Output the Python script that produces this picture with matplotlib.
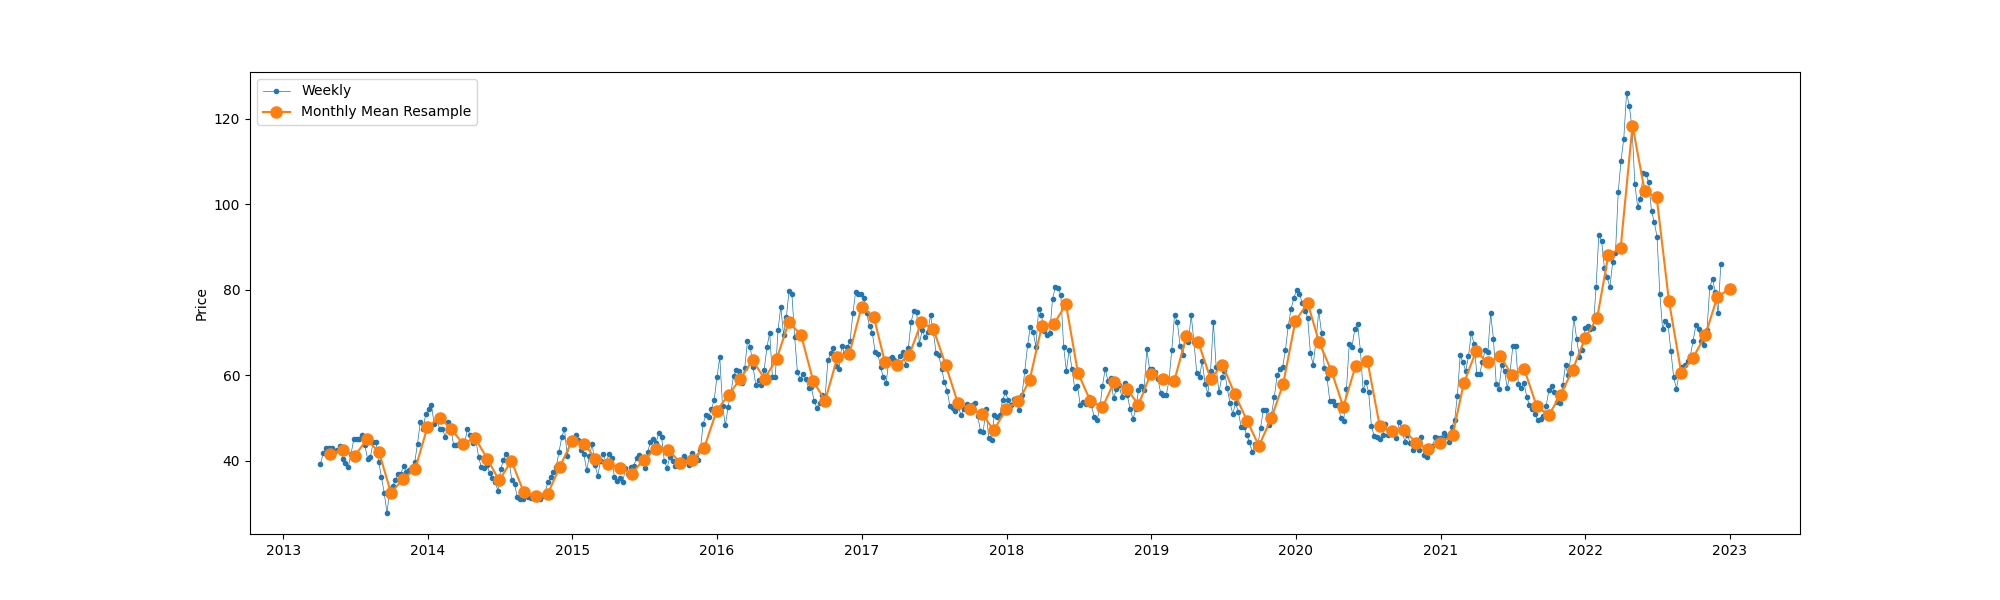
import matplotlib.pyplot as plt
import pandas as pd

# Weekly prices (Friday weeks), one list per year
w2013 = [39.3, 41.8, 42.9, 43.0,
         42.9, 42.1, 42.5, 43.4, 40.5,
         39.5, 38.5, 41.5, 45.0,
         45.0, 45.2, 46.0, 43.6,
         40.5, 40.9, 44.3, 44.5, 39.8,
         36.2, 32.5, 27.8, 33.5,
         34.0, 35.5, 37.0, 37.0,
         38.8, 37.4, 37.9, 38.5, 39.7,
         44.0, 49.0, 47.5, 51.0]
w2014 = [52.0, 53.0, 48.7, 49.5, 47.5,
         47.5, 45.5, 49.1, 47.8,
         43.6, 43.8, 44.0, 44.6,
         44.0, 47.5, 46.0, 44.2,
         45.0, 41.0, 38.5, 38.4, 39.0,
         37.2, 36.0, 35.0, 33.0,
         38.0, 40.3, 41.7, 40.1,
         35.4, 34.6, 31.5, 31.1, 31.1,
         32.5, 31.5, 31.3, 31.8,
         31.0, 31.1, 31.8, 32.5, 35.0,
         36.2, 37.5, 38.5, 42.0,
         45.5, 47.5, 41.1, 44.5]
w2015 = [45.0, 46.0, 44.8, 42.5, 41.5,
         37.8, 41.1, 44.0, 39.0,
         36.5, 40.0, 41.5, 39.5,
         41.5, 40.7, 36.2, 35.3,
         36.0, 35.0, 38.3, 37.0, 38.5,
         38.8, 40.7, 41.4, 40.0,
         38.3, 42.0, 44.5, 45.0, 44.2,
         46.5, 45.6, 40.0, 38.3,
         40.9, 39.9, 38.9, 38.8,
         39.5, 41.1, 40.1, 39.0, 41.8,
         40.9, 40.3, 42.5, 48.7,
         50.6, 50.3, 52.0, 54.3]
w2016 = [59.6, 64.3, 52.8, 48.3, 52.6,
         56.0, 59.9, 61.2, 61.0,
         58.3, 61.7, 68.0, 66.7,
         62.0, 57.7, 58.8, 57.7, 61.2,
         66.5, 70.0, 59.5, 59.6,
         70.5, 76.0, 69.5, 73.6,
         79.7, 79.1, 69.0, 60.8, 59.1,
         60.4, 59.2, 57.1, 57.3,
         54.0, 52.4, 53.6, 55.5, 55.0,
         63.5, 65.1, 66.4, 62.2,
         61.5, 66.8, 65.2, 66.5,
         68.0, 74.5, 79.5, 79.0, 79.0]
w2017 = [78.0, 74.5, 71.5, 70.0,
         65.5, 65.0, 62.0, 59.5,
         58.1, 63.9, 64.3, 63.5, 63.1,
         64.5, 65.5, 62.5, 66.3,
         72.5, 75.0, 74.7, 67.4,
         70.6, 69.0, 70.2, 74.0, 70.2,
         65.3, 64.7, 61.5, 58.5,
         56.3, 52.8, 52.4, 51.6,
         52.6, 50.7, 52.1, 53.2, 52.4,
         53.0, 53.5, 50.5, 47.0,
         46.8, 52.1, 45.4, 44.8,
         50.7, 50.3, 50.7, 54.2, 56.0]
w2018 = [54.2, 53.1, 54.5, 54.0,
         51.8, 55.5, 61.0, 67.0,
         71.3, 70.2, 66.7, 75.5, 74.0,
         70.3, 69.5, 70.0, 77.8,
         80.7, 80.3, 78.8, 66.7,
         61.0, 66.0, 61.5, 57.0, 57.5,
         53.0, 53.8, 53.4, 55.0,
         53.1, 50.3, 49.5, 52.0, 57.5,
         61.5, 58.6, 59.3, 54.6,
         56.7, 57.7, 55.0, 58.3,
         55.3, 52.0, 49.8, 52.0, 56.5,
         57.4, 56.5, 66.1, 61.4]
w2019 = [61.4, 60.8, 59.1, 55.9,
         55.3, 55.3, 58.8, 65.9,
         74.1, 72.4, 66.9, 64.7, 69.1,
         67.8, 74.1, 67.8, 60.6,
         59.6, 63.3, 58.0, 55.7, 61.0,
         72.5, 62.0, 56.0, 59.5,
         61.0, 57.0, 53.5, 51.0,
         53.5, 51.5, 48.0, 48.0, 46.0,
         44.5, 42.0, 44.0, 43.5,
         47.7, 51.8, 51.8, 48.3,
         51.0, 55.0, 60.0, 61.5, 62.0,
         66.0, 71.5, 75.5, 78.0]
w2020 = [79.9, 79.1, 77.0, 75.0, 73.5,
         65.1, 62.5, 68.0, 75.0,
         70.0, 61.7, 59.4, 53.9,
         53.9, 53.1, 53.0, 50.0,
         49.4, 56.7, 67.4, 66.7, 70.8,
         72.0, 66.0, 56.5, 58.5,
         56.0, 48.1, 45.8, 45.5, 45.0,
         46.0, 48.5, 46.0, 47.0,
         46.5, 45.3, 49.1, 47.5,
         44.5, 46.0, 44.2, 42.5, 43.5,
         42.5, 45.6, 41.4, 40.9,
         42.5, 43.5, 45.5, 45.3]
w2021 = [45.3, 46.5, 45.8, 44.5, 48.0,
         49.5, 55.2, 64.7, 63.0,
         61.0, 64.5, 69.8, 67.4,
         60.4, 60.2, 63.0, 65.9, 65.5,
         74.5, 68.5, 58.0, 56.9,
         62.5, 61.0, 57.0, 60.8,
         66.8, 66.8, 58.0, 57.0, 58.2,
         55.0, 53.0, 52.0, 51.0,
         49.5, 49.7, 50.5, 52.8,
         56.5, 57.5, 56.1, 53.8, 53.5,
         57.8, 62.4, 60.0, 65.1,
         73.5, 68.5, 64.3, 65.9, 71.0]
w2022 = [71.6, 70.8, 71.0, 80.6,
         92.8, 91.4, 85.2, 82.9,
         80.6, 86.4, 88.5, 102.8,
         110.1, 115.3, 126.0, 123.0, 117.6,
         104.7, 99.4, 101.2, 107.3,
         107.0, 105.1, 98.4, 95.9,
         92.3, 79.1, 70.8, 72.7, 71.7,
         65.6, 59.5, 56.9, 60.5,
         62.0, 62.5, 63.4, 64.6, 68.0,
         71.7, 70.9, 68.0, 67.0,
         70.5, 80.6, 82.5, 79.5,
         74.5, 86.0]

# Monthly mean values (month end), Apr 2013 - Dec 2022
monthly = [41.7, 42.5, 41.1, 45.0, 42.0, 32.5, 35.8, 38.0, 47.9,
           50.1, 47.5, 44.0, 45.4, 40.5, 35.4, 40.0, 32.7, 31.8, 32.3, 38.6, 44.6,
           44.0, 40.5, 39.3, 38.4, 37.0, 40.3, 42.8, 42.6, 39.6, 40.3, 43.1, 51.7,
           55.5, 59.2, 63.5, 59.2, 63.9, 72.4, 69.5, 58.6, 54.1, 64.2, 65.0, 76.0,
           73.6, 63.0, 62.4, 64.7, 72.4, 70.8, 62.5, 53.5, 52.2, 51.0, 47.1, 52.2,
           53.9, 58.8, 71.5, 71.9, 76.6, 60.6, 54.1, 52.5, 58.5, 56.9, 53.1, 60.4,
           59.2, 58.6, 69.1, 67.7, 59.2, 62.5, 55.6, 49.4, 43.5, 49.9, 57.9, 72.7,
           76.9, 67.7, 61.0, 52.6, 62.2, 63.3, 48.1, 46.9, 47.2, 44.2, 42.8, 44.2,
           46.0, 58.1, 65.6, 63.0, 64.5, 60.0, 61.4, 52.8, 50.6, 55.5, 61.3, 68.6,
           73.5, 88.1, 89.7, 118.4, 103.0, 101.6, 77.4, 60.6, 64.1, 69.4, 78.3, 80.2]

year_starts = ['2013-04-05', '2014-01-01', '2015-01-01', '2016-01-01', '2017-01-01',
               '2018-01-01', '2019-01-01', '2020-01-01', '2021-01-01', '2022-01-01']
year_values = [w2013, w2014, w2015, w2016, w2017, w2018, w2019, w2020, w2021, w2022]

weekly = pd.concat([
    pd.Series(vals, index=pd.date_range(start, periods=len(vals), freq='W-FRI'))
    for start, vals in zip(year_starts, year_values)
])
monthly_mean = pd.Series(monthly, index=pd.date_range('2013-04-30', periods=len(monthly), freq='ME'))

fig, ax = plt.subplots(figsize=(20, 6))
ax.plot(weekly, marker='.', linestyle='-', linewidth=0.5, label='Weekly')
ax.plot(monthly_mean, marker='o', markersize=8, linestyle='-', label='Monthly Mean Resample')
ax.set_ylabel('Price')
ax.legend(loc='upper left')

fig.savefig('out.png', dpi=100)
